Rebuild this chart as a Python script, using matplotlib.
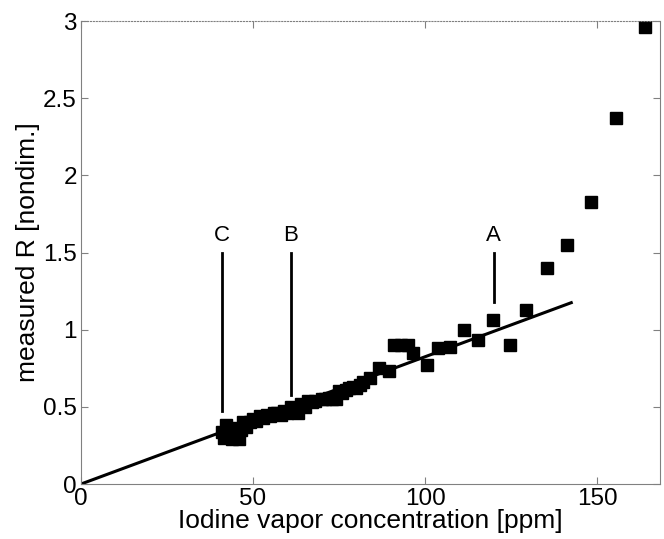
import numpy as np
import matplotlib
matplotlib.use("Agg")
import matplotlib.pyplot as plt

plt.rcParams['font.family'] = ['Liberation Sans', 'DejaVu Sans']

# measured points (ppm, R)
conc = [41, 41.5, 42, 43, 44, 44.5, 45, 46, 46.5, 47, 48, 49, 50, 51, 52, 53,
        54, 55, 56, 57, 58, 59, 60, 61, 62, 63, 64, 65, 66, 67, 68, 70, 71, 72,
        73, 74, 75, 76, 77, 78, 79, 80, 81, 82, 84, 86.5, 89.5, 91, 93, 95,
        96.5, 100.5, 103.8, 107.3, 111.3, 115.4, 119.8, 124.7, 129.4, 135.5,
        141.3, 148.3, 155.5, 164]
ratio = [0.34, 0.30, 0.38, 0.33, 0.29, 0.36, 0.31, 0.29, 0.35, 0.40, 0.37,
         0.40, 0.42, 0.41, 0.44, 0.43, 0.45, 0.44, 0.46, 0.46, 0.45, 0.47,
         0.46, 0.50, 0.48, 0.46, 0.52, 0.50, 0.54, 0.53, 0.54, 0.55, 0.55,
         0.56, 0.55, 0.55, 0.60, 0.59, 0.61, 0.62, 0.63, 0.62, 0.64, 0.66,
         0.69, 0.75, 0.73, 0.90, 0.90, 0.90, 0.85, 0.77, 0.88, 0.89, 1.00,
         0.93, 1.06, 0.90, 1.13, 1.40, 1.55, 1.83, 2.37, 2.96]

# linear fit line
fit_x = [0, 142.5]
fit_y = [0, 1.175]

# markers A, B, C
mark_names = ['C', 'B', 'A']
mark_x = [41, 61, 120]
mark_bottom = [0.47, 0.58, 1.18]
mark_top = 1.5

fig = plt.figure(figsize=(6.64, 5.39), dpi=100)
ax = fig.add_axes([0.122, 0.102, 0.872, 0.859])

ax.plot(fit_x, fit_y, color='black', lw=2.2)
ax.plot(conc, ratio, 's', color='black', ms=9)

for name, xm, yb in zip(mark_names, mark_x, mark_bottom):
    ax.plot([xm, xm], [yb, mark_top], color='black', lw=2)
    ax.text(xm, 1.545, name, ha='center', va='bottom', fontsize=16)

ax.set_xlim(0, 168.3)
ax.set_ylim(0, 3)
ax.set_xticks([0, 50, 100, 150])
ax.set_yticks([0, 0.5, 1, 1.5, 2, 2.5, 3])
ax.set_yticklabels(['0', '0.5', '1', '1.5', '2', '2.5', '3'])
ax.tick_params(direction='in', length=5, top=True, right=True, labelsize=17.5,
               color='#808080', pad=3)
for s in ax.spines.values():
    s.set_color('#808080')
ax.spines['top'].set_linestyle(':')
ax.set_xlabel('Iodine vapor concentration [ppm]', fontsize=19, labelpad=-1)
ax.set_ylabel('measured R [nondim.]', fontsize=19, labelpad=2)

fig.savefig('out.png', dpi=100)
